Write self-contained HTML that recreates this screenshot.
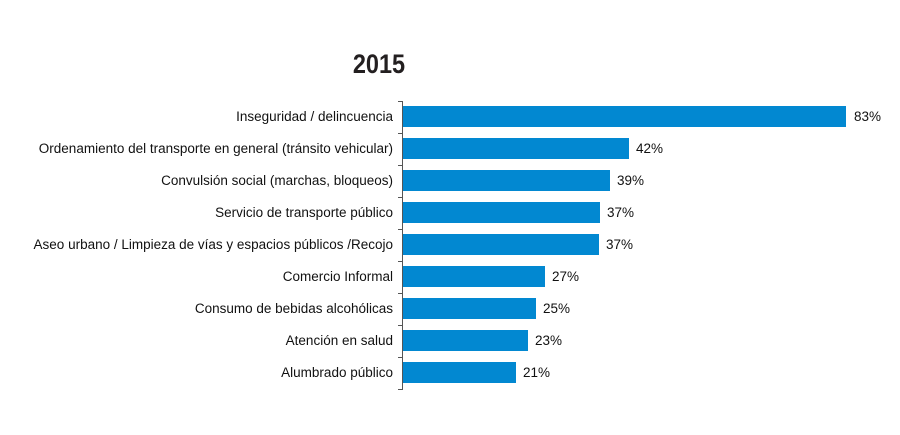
<!DOCTYPE html>
<html><head><style>
body{margin:0;background:#fff;}
svg{display:block;font-family:"Liberation Sans",Arial,sans-serif;}
</style></head><body>
<svg width="900" height="435" xmlns="http://www.w3.org/2000/svg">
<text x="379" y="73" font-size="27" font-weight="bold" text-anchor="middle" fill="#231f20" transform="translate(379 0) scale(0.87 1) translate(-379 0)">2015</text>
<g stroke="#555" stroke-width="1">
<line x1="402.5" y1="101" x2="402.5" y2="390"/>
<line x1="398" y1="101.5" x2="403" y2="101.5"/>
<line x1="398" y1="133.5" x2="403" y2="133.5"/>
<line x1="398" y1="165.5" x2="403" y2="165.5"/>
<line x1="398" y1="197.5" x2="403" y2="197.5"/>
<line x1="398" y1="229.5" x2="403" y2="229.5"/>
<line x1="398" y1="261.5" x2="403" y2="261.5"/>
<line x1="398" y1="293.5" x2="403" y2="293.5"/>
<line x1="398" y1="325.5" x2="403" y2="325.5"/>
<line x1="398" y1="357.5" x2="403" y2="357.5"/>
<line x1="398" y1="389.5" x2="403" y2="389.5"/>
</g>
<g fill="#0288d1">
<rect x="403" y="106" width="443" height="21"/>
<rect x="403" y="138" width="226" height="21"/>
<rect x="403" y="170" width="207" height="21"/>
<rect x="403" y="202" width="197" height="21"/>
<rect x="403" y="234" width="196" height="21"/>
<rect x="403" y="266" width="142" height="21"/>
<rect x="403" y="298" width="133" height="21"/>
<rect x="403" y="330" width="125" height="21"/>
<rect x="403" y="362" width="113" height="21"/>
</g>
<g font-size="13.5" fill="#111" text-anchor="end">
<text x="393" y="121">Inseguridad / delincuencia</text>
<text x="393" y="153">Ordenamiento del transporte en general (tránsito vehicular)</text>
<text x="393" y="185">Convulsión social (marchas, bloqueos)</text>
<text x="393" y="217">Servicio de transporte público</text>
<text x="393" y="249">Aseo urbano / Limpieza de vías y espacios públicos /Recojo</text>
<text x="393" y="281">Comercio Informal</text>
<text x="393" y="313">Consumo de bebidas alcohólicas</text>
<text x="393" y="345">Atención en salud</text>
<text x="393" y="377">Alumbrado público</text>
</g>
<g font-size="13.5" fill="#111">
<text x="854" y="121">83%</text>
<text x="636" y="153">42%</text>
<text x="617" y="185">39%</text>
<text x="607" y="217">37%</text>
<text x="606" y="249">37%</text>
<text x="552" y="281">27%</text>
<text x="543" y="313">25%</text>
<text x="535" y="345">23%</text>
<text x="523" y="377">21%</text>
</g>
</svg>
</body></html>
